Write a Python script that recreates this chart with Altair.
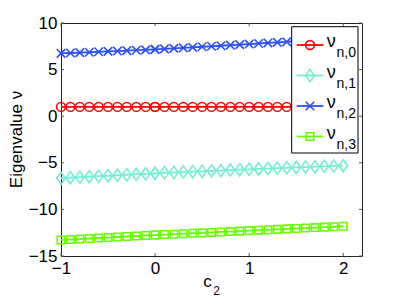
import altair as alt
import pandas as pd

# ---------------- data ----------------
series = ["nu0", "nu1", "nu2", "nu3"]
sub_labels = ["n,0", "n,1", "n,2", "n,3"]
colors = ["#FF0000", "#76EED2", "#2E50F5", "#66FF00"]
shapes = ["circle", "M0,-1L0.72,0L0,1L-0.72,0Z", "M-1,-1L1,1M-1,1L1,-1", "square"]
sizes = [78, 150, 72, 56]

x_seg1 = [-1.0, -0.9, -0.8, -0.7, -0.6, -0.5, -0.4, -0.3, -0.2, -0.1, 0.0]
x_seg2 = [0.0, 0.1, 0.2, 0.3, 0.4, 0.5, 0.6, 0.7, 0.8, 0.9, 1.0,
          1.1, 1.2, 1.3, 1.4, 1.5, 1.6, 1.7, 1.8, 1.9, 2.0]

nu0_seg1 = [1.0, 1.0, 1.0, 1.0, 1.0, 1.0, 1.0, 1.0, 1.0, 1.0, 1.0]
nu0_seg2 = [1.0, 1.0, 1.0, 1.0, 1.0, 1.0, 1.0, 1.0, 1.0, 1.0, 1.0,
            1.0, 1.0, 1.0, 1.0, 1.0, 1.0, 1.0, 1.0, 1.0, 1.0]

nu1_seg1 = [-6.66, -6.60, -6.55, -6.49, -6.44, -6.39, -6.34, -6.28, -6.23, -6.18, -6.13]
nu1_seg2 = [-6.13, -6.08, -6.04, -5.99, -5.95, -5.91, -5.87, -5.83, -5.78, -5.74, -5.70,
            -5.66, -5.62, -5.58, -5.54, -5.50, -5.46, -5.42, -5.38, -5.34, -5.31]

nu2_seg1 = [6.74, 6.78, 6.82, 6.86, 6.91, 6.95, 6.99, 7.04, 7.08, 7.12, 7.17]
nu2_seg2 = [7.17, 7.22, 7.28, 7.33, 7.39, 7.45, 7.50, 7.56, 7.62, 7.68, 7.74,
            7.80, 7.86, 7.92, 7.98, 8.04, 8.10, 8.16, 8.22, 8.28, 8.34]

nu3_seg1 = [-13.28, -13.23, -13.18, -13.12, -13.07, -13.02, -12.96, -12.91, -12.86, -12.80, -12.75]
nu3_seg2 = [-12.75, -12.70, -12.66, -12.61, -12.56, -12.52, -12.47, -12.42, -12.38, -12.33, -12.28,
            -12.23, -12.19, -12.14, -12.09, -12.05, -12.00, -11.95, -11.90, -11.86, -11.81]

x_ticks = [-1, 0, 1, 2]
y_ticks = [-15, -10, -5, 0, 5, 10]
x_domain = [-1, 2.2]
y_domain = [-15, 10]

# ---------------- tables ----------------
seg_values = {
    "nu0": nu0_seg1 + nu0_seg2,
    "nu1": nu1_seg1 + nu1_seg2,
    "nu2": nu2_seg1 + nu2_seg2,
    "nu3": nu3_seg1 + nu3_seg2,
}
xs = x_seg1 + x_seg2
rows = []
for s in series:
    for i, (xv, yv) in enumerate(zip(xs, seg_values[s])):
        rows.append({"series": s, "x": xv, "v": yv, "order": i})
df = pd.DataFrame(rows)

FONT = "Liberation Sans"
W, H = 301, 233

xaxis = alt.Axis(values=x_ticks, ticks=False, domain=False, grid=False, labelFontSize=17,
                 labelFont=FONT, labelColor="black", labelPadding=4, labelFlush=False,
                 labelOverlap=False, title=None)
yaxis = alt.Axis(values=y_ticks, ticks=False, domain=False, grid=False, labelFontSize=17,
                 labelFont=FONT, labelColor="black", labelPadding=4, labelOverlap=False,
                 title=None)

xs_scale = alt.Scale(domain=x_domain, nice=False, zero=False)
ys_scale = alt.Scale(domain=y_domain, nice=False, zero=False)

X = alt.X("x:Q", scale=xs_scale, axis=xaxis, title=None)
Y = alt.Y("v:Q", scale=ys_scale, axis=yaxis, title=None)
C = alt.Color("series:N", scale=alt.Scale(domain=series, range=colors), legend=None)

base = alt.Chart(df)
lines = base.mark_line(strokeWidth=1.8).encode(x=X, y=Y, color=C, order="order:Q")
point_layers = []
for s, shp, sz in zip(series, shapes, sizes):
    point_layers.append(
        base.transform_filter(alt.datum.series == s)
        .mark_point(filled=False, strokeWidth=1.6, opacity=1, shape=shp, size=sz)
        .encode(x=X, y=Y, color=C)
    )

xt = pd.DataFrame({"tx": x_ticks})
yt = pd.DataFrame({"ty": y_ticks})
TX = alt.X("tx:Q", scale=xs_scale, axis=xaxis, title=None)
TY = alt.Y("ty:Q", scale=ys_scale, axis=yaxis, title=None)
tick_style = dict(color="#555555", strokeWidth=1)
tb = alt.Chart(xt).mark_rule(**tick_style).encode(x=TX, y=alt.value(H), y2=alt.value(H - 3))
tt = alt.Chart(xt).mark_rule(**tick_style).encode(x=TX, y=alt.value(0), y2=alt.value(3))
tl = alt.Chart(yt).mark_rule(**tick_style).encode(y=TY, x=alt.value(0), x2=alt.value(3))
tr = alt.Chart(yt).mark_rule(**tick_style).encode(y=TY, x=alt.value(W), x2=alt.value(W - 3))

main = alt.layer(lines, *point_layers, tb, tt, tl, tr)

# ---------------- legend & titles ----------------
one = pd.DataFrame({"a": [0]})
leg_df = pd.DataFrame({"series": series, "sub": sub_labels, "nu": ["ν", "ν", "ν", "ν"]})
LY = alt.Y("series:N", scale=alt.Scale(type="point", domain=series, range=[22, 113.5], padding=0),
           axis=None, title=None)

box = alt.Chart(one).mark_rect(fill="white", stroke="black", strokeWidth=1).encode(
    x=alt.value(230.7), x2=alt.value(297), y=alt.value(3.7), y2=alt.value(130))
leg_line = alt.Chart(leg_df).mark_rule(strokeWidth=1.8).encode(
    x=alt.value(235.7), x2=alt.value(262.3), y=LY, color=C)
leg_pts = []
for s, shp, sz in zip(series, shapes, sizes):
    leg_pts.append(
        alt.Chart(leg_df).transform_filter(alt.datum.series == s)
        .mark_point(filled=False, strokeWidth=1.6, opacity=1, shape=shp, size=sz)
        .encode(x=alt.value(249), y=LY, color=C)
    )
leg_nu = alt.Chart(leg_df).mark_text(align="left", baseline="alphabetic", fontSize=18,
                                     font=FONT, dy=2, color="black").encode(
    x=alt.value(265.7), y=LY, text="nu:N")
leg_sub = alt.Chart(leg_df).mark_text(align="left", baseline="alphabetic", fontSize=14,
                                      font=FONT, dy=12, color="black").encode(
    x=alt.value(275.5), y=LY, text="sub:N")

xt_c = alt.Chart(one).mark_text(align="center", baseline="alphabetic", fontSize=17,
                                font=FONT, color="black", text="c").encode(
    x=alt.value(146.5), y=alt.value(264))
xt_2 = alt.Chart(one).mark_text(align="center", baseline="alphabetic", fontSize=12,
                                font=FONT, color="black", text="2").encode(
    x=alt.value(155.5), y=alt.value(272))
yt_t = alt.Chart(one).mark_text(align="center", baseline="alphabetic", fontSize=17, angle=270,
                                font=FONT, color="black", text="Eigenvalue ν").encode(
    x=alt.value(-39.5), y=alt.value(116.5))

legend = alt.layer(box, leg_line, *leg_pts, leg_nu, leg_sub, xt_c, xt_2, yt_t)

chart = alt.layer(main, legend).resolve_scale(y="independent").properties(
    width=W, height=H,
    autosize=alt.AutoSizeParams(type="none"),
    padding={"left": 53, "top": 15, "right": 24, "bottom": 42},
    background="white",
).configure_view(stroke="#222222", strokeWidth=1)

chart.save("out.html", embed_options={"renderer": "svg", "actions": False})
